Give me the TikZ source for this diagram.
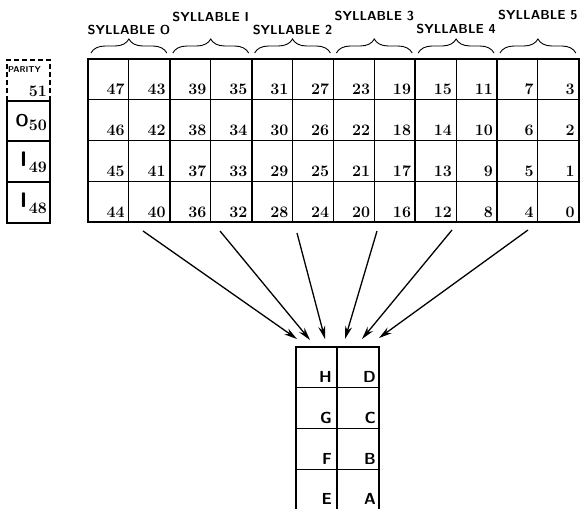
\documentclass[tikz,border=0pt]{standalone}
\usepackage{fontspec}
\usepackage{tikz}
\usetikzlibrary{arrows.meta, positioning, decorations.pathreplacing}

\newcommand{\numfont}{\fontsize{16}{18}\selectfont\bfseries}
\newcommand{\sylfont}{\fontsize{13}{15}\selectfont\sffamily\bfseries}
\newcommand{\letfont}{\fontsize{16}{18}\selectfont\sffamily\bfseries}
\newcommand{\bitfont}[1]{\fontsize{#1}{#1}\selectfont\sffamily\bfseries}
\newcommand{\parfont}{\fontsize{8.5}{9}\selectfont\sffamily\bfseries}

\begin{document}
\begin{tikzpicture}[
  x=1pt, y=-1pt,
  numlab/.style={anchor=base east, font=\numfont, inner sep=0pt},
  letlab/.style={anchor=base east, font=\letfont, inner sep=0pt},
  sylab/.style={font=\sylfont, inner sep=0pt},
  cellline/.style={line width=1.1pt},
  sylline/.style={line width=1.8pt},
  outline/.style={line width=2.2pt},
  brc/.style={decorate, decoration={brace, amplitude=14pt}, line width=0.9pt},
  arr/.style={-{Stealth[length=13pt, width=7pt]}, line width=1.3pt},
]
\useasboundingbox (0,0) rectangle (585,508);

% Main register
\foreach \r in {1,2,3}
  \draw[cellline] (88,{59+40.8*\r}) -- (579,{59+40.8*\r});
\foreach \c in {1,3,...,11}
  \draw[cellline] ({88+40.9*\c},59) -- ({88+40.9*\c},222);
\foreach \c in {2,4,...,10}
  \draw[sylline] ({88+40.9*\c},59) -- ({88+40.9*\c},222);
\draw[outline] (88,59) rectangle (579,222);

\foreach \c in {0,...,11}
  \foreach \r in {0,...,3} {
    \pgfmathtruncatemacro{\v}{47-8*floor(\c/2)-4*mod(\c,2)-\r}
    \node[numlab] (n\v) at ({88+40.9*(\c+1)-4},{59+40.8*(\r+1)-5}) {\v};
  }

% Syllables
\foreach \s/\t/\y in {0/O/30,1/I/17,2/2/30,3/3/16,4/4/29,5/5/15} {
  \draw[brc] ({88+81.8*\s+3},53) -- ({88+81.8*(\s+1)-3},53);
  \node[sylab] (syl\s) at ({88+81.8*(\s+0.5)},\y) {SYLLABLE \t};
}

% Parity column
\draw[cellline, dash pattern=on 5pt off 3pt] (7,101) -- (7,60) -- (50,60) -- (50,101);
\draw[cellline] (7,101) rectangle (50,223);
\draw[cellline] (7,141) -- (50,141);
\draw[cellline] (7,182) -- (50,182);
\node[anchor=north west, font=\parfont, inner sep=0pt] (par) at (8,66) {PARITY};
\node[numlab] (p51) at (47,96) {51};
\node[anchor=base east, inner sep=0pt] (b50) at (47,126)
  {{\bitfont{17}O}\raisebox{-4pt}{\numfont 50}};
\node[anchor=base east, inner sep=0pt] (b49) at (47,166)
  {{\bitfont{21}I}\,\raisebox{-6pt}{\numfont 49}};
\node[anchor=base east, inner sep=0pt] (b48) at (47,207)
  {{\bitfont{21}I}\,\raisebox{-6pt}{\numfont 48}};

% Output register
\draw[cellline] (296,347) rectangle (379,512);
\draw[cellline] (337,347) -- (337,512);
\foreach \r in {1,2,3}
  \draw[cellline] (296,{347+40.7*\r}) -- (379,{347+40.7*\r});
\foreach \r/\a/\b in {0/H/D,1/G/C,2/F/B,3/E/A} {
  \node[letlab] (l\a) at (332,{347+40.7*(\r+1)-5}) {\a};
  \node[letlab] (l\b) at (376,{347+40.7*(\r+1)-5}) {\b};
}

% Arrows
\coordinate (s0) at (143,231);
\coordinate (s1) at (220,231);
\coordinate (s2) at (297,233);
\coordinate (s3) at (377,231);
\coordinate (s4) at (452,230);
\coordinate (s5) at (528,230);
\coordinate (t0) at (297,339);
\coordinate (t1) at (310,340);
\coordinate (t2) at (325,339);
\coordinate (t3) at (345,339);
\coordinate (t4) at (362,339);
\coordinate (t5) at (379,338);
\foreach \i in {0,...,5}
  \draw[arr] (s\i) -- (t\i);

\end{tikzpicture}
\end{document}
